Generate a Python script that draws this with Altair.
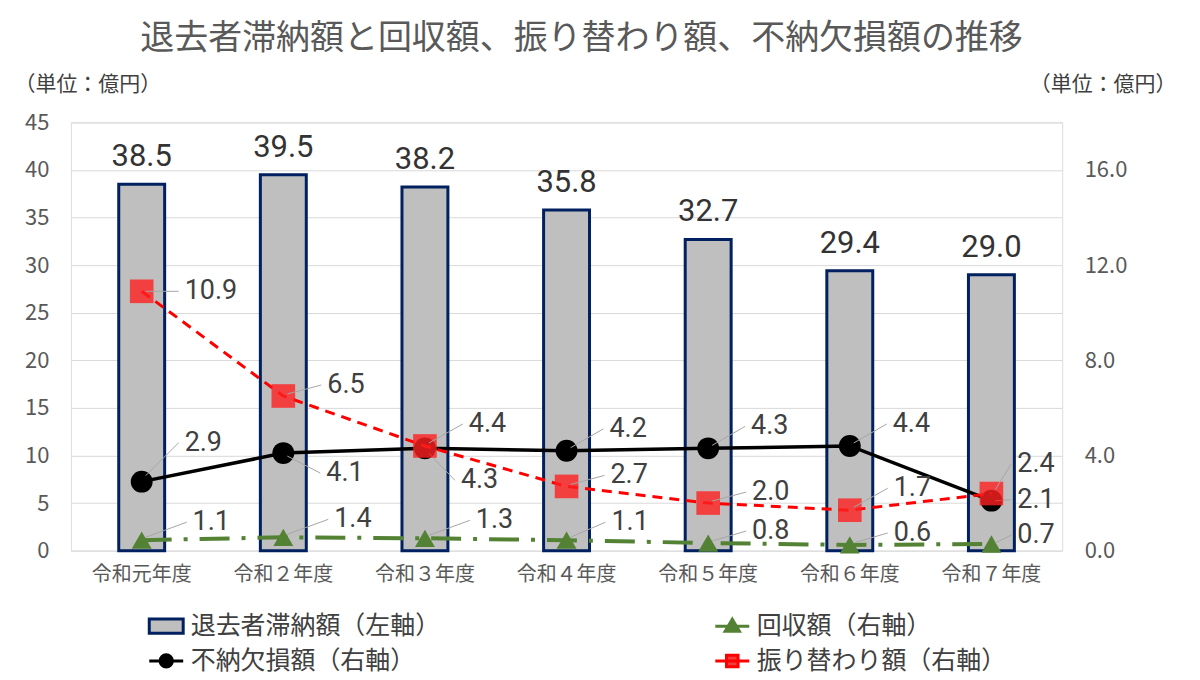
import altair as alt
import pandas as pd

years = ["令和元年度", "令和２年度", "令和３年度", "令和４年度", "令和５年度", "令和６年度", "令和７年度"]
arrears = [38.5, 39.5, 38.2, 35.8, 32.7, 29.4, 29.0]      # 退去者滞納額 (left axis)
recovered = [1.1, 1.4, 1.3, 1.1, 0.8, 0.6, 0.7]           # 回収額
writeoff = [2.9, 4.1, 4.3, 4.2, 4.3, 4.4, 2.1]            # 不納欠損額 (right axis)
transfer = [10.9, 6.5, 4.4, 2.7, 2.0, 1.7, 2.4]           # 振り替わり額 (right axis)
series_names = ["退去者滞納額（左軸）", "回収額（右軸）", "不納欠損額（右軸）", "振り替わり額（右軸）"]

df = pd.DataFrame({"year": years, "arrears": arrears, "recovered": recovered,
                   "writeoff": writeoff, "transfer": transfer})

CJK = "Noto Sans CJK JP"
NUM = "Liberation Sans Narrow, Roboto, Noto Sans"
UNIT = "（単位：億円）"
GREEN = "#548235"
RED = "#FF0000"
GREY_TXT = "#595959"
LBL = "#404040"

X = alt.X("year:N", sort=years, title=None,
          scale=alt.Scale(paddingInner=0, paddingOuter=0),
          axis=alt.Axis(labelAngle=0, labelFontSize=20, labelColor=GREY_TXT, labelFont=CJK,
                        domain=False, ticks=False, labelPadding=14))

left_scale = alt.Scale(domain=[0, 45], nice=False)
right_scale = alt.Scale(domain=[0, 18], nice=False)
left_axis = alt.Axis(values=list(range(0, 50, 5)), grid=True, gridColor="#D9D9D9", domain=False,
                     ticks=False, labelFontSize=22, labelColor=GREY_TXT, labelFont=CJK, labelPadding=22,
                     title=UNIT, titleAngle=0, titleAlign="left", titleBaseline="middle",
                     titleX=-57, titleY=-38, titleFontSize=21, titleFont=CJK,
                     titleFontWeight="normal", titleColor=LBL)
right_axis = alt.Axis(orient="right", values=[0, 4, 8, 12, 16], format=".1f", grid=False,
                      domain=False, ticks=False, labelFontSize=22, labelColor=GREY_TXT, labelFont=CJK,
                      labelPadding=22, title=UNIT, titleAngle=0, titleAlign="left",
                      titleBaseline="middle", titleX=-33, titleY=-38, titleFontSize=21,
                      titleFont=CJK, titleFontWeight="normal", titleColor=LBL)


def YL(field):
    return alt.Y(f"{field}:Q", scale=left_scale, axis=left_axis, title=UNIT)


def YR(field):
    return alt.Y(f"{field}:Q", scale=right_scale, axis=right_axis, title=UNIT)


def point_labels(field, yfun, groups):
    out = []
    for ys, dx, dy in groups:
        src = alt.Chart(df).transform_filter(alt.FieldOneOfPredicate(field="year", oneOf=ys))
        out.append(src.mark_rule(color="#A6A6A6", strokeWidth=1, xOffset=4, x2Offset=dx - 6,
                                 yOffset=round(dy * 0.15), y2Offset=dy).encode(
            x=X, x2=alt.X2("year"), y=yfun(field), y2=alt.Y2(f"{field}:Q")))
        out.append(src.mark_text(align="left", baseline="middle", dx=dx, dy=dy, font=NUM,
                                 fontSize=27, color=LBL).encode(
            x=X, y=yfun(field), text=alt.Text(f"{field}:Q", format=".1f")))
    return out


base = alt.Chart(df)

bars = base.mark_bar(size=46, fill="#BFBFBF", stroke="#002060", strokeWidth=3).encode(
    x=X, y=YL("arrears"))
bar_text = base.mark_text(baseline="middle", dy=-27, font=NUM, fontSize=31, color="#333333").encode(
    x=X, y=YL("arrears"), text=alt.Text("arrears:Q", format=".1f"))

green_line = base.mark_line(color=GREEN, strokeWidth=4, strokeDash=[30, 12, 4, 12]).encode(
    x=X, y=YL("recovered"))
green_pts = base.mark_point(shape="triangle-up", filled=True, size=400, color=GREEN, opacity=1).encode(
    x=X, y=YL("recovered"))
green_labels = point_labels("recovered", YL, [
    (years[0:3], 51, -18), ([years[3]], 45, -18), (years[4:6], 44, -12), ([years[6]], 26, -9)])

LEG = alt.Legend(orient="none", legendX=77, legendY=486, columns=2, columnPadding=268,
                 direction="horizontal",
                 rowPadding=3, symbolSize=1156, symbolStrokeWidth=3, labelFontSize=25,
                 labelFont=CJK, labelColor=LBL, labelOffset=6, labelLimit=400, title=None)
shape_paths = [
    "M-1,-0.42H1V0.42H-1Z",
    "M-1,0H1M0,-0.42L0.42,0.3L-0.42,0.3Z",
    "M-1,0H1M0.36,0A0.36,0.36,0,1,1,-0.36,0A0.36,0.36,0,1,1,0.36,0Z",
    "M-1,0H1M-0.34,-0.34H0.34V0.34H-0.34Z",
]
legend_layer = base.transform_calculate(s="'x'").transform_filter("false").mark_point(
    filled=True, opacity=1).encode(
    fill=alt.Fill("s:N", scale=alt.Scale(domain=series_names,
                                         range=["#BFBFBF", GREEN, "#000000", "#F03C3C"]), legend=LEG),
    stroke=alt.Stroke("s:N", scale=alt.Scale(domain=series_names,
                                             range=["#002060", GREEN, "#000000", RED]), legend=LEG),
    shape=alt.Shape("s:N", scale=alt.Scale(domain=series_names, range=shape_paths), legend=LEG),
)

black_line = base.mark_line(color="#000000", strokeWidth=3.5).encode(x=X, y=YR("writeoff"))
black_pts = base.mark_circle(size=480, color="#000000", opacity=1).encode(x=X, y=YR("writeoff"))
black_labels = point_labels("writeoff", YR, [
    ([years[0]], 43, -39), ([years[1]], 43, 20), ([years[2]], 36, 32),
    (years[3:6], 43, -22), ([years[6]], 26, -1)])

red_line = base.mark_line(color=RED, strokeWidth=3, strokeDash=[10, 7]).encode(x=X, y=YR("transfer"))
red_pts = base.mark_square(size=560, color="#FF2020", opacity=0.8).encode(x=X, y=YR("transfer"))
red_labels = point_labels("transfer", YR, [
    ([years[0]], 43, 0), ([years[1], years[3], years[4]], 44, -11),
    ([years[2], years[5]], 44, -22), ([years[6]], 26, -30)])

left = alt.layer(bars, bar_text, green_line, green_pts, *green_labels, legend_layer)
right = alt.layer(black_line, black_pts, *black_labels, red_line, red_pts, *red_labels)

chart = alt.layer(left, right).resolve_scale(y="independent").properties(
    width=993, height=429,
    title=alt.TitleParams("退去者滞納額と回収額、振り替わり額、不納欠損額の推移", fontSize=34,
                          color=GREY_TXT, fontWeight="normal", font=CJK, anchor="middle",
                          frame="group", dx=15, offset=18),
    padding={"left": 63, "top": 114, "right": 130, "bottom": 130},
    autosize=alt.AutoSizeParams(type="none"),
).configure_view(stroke=None).configure(font=CJK)

chart.save("out.html", embed_options={"renderer": "svg", "actions": False})
